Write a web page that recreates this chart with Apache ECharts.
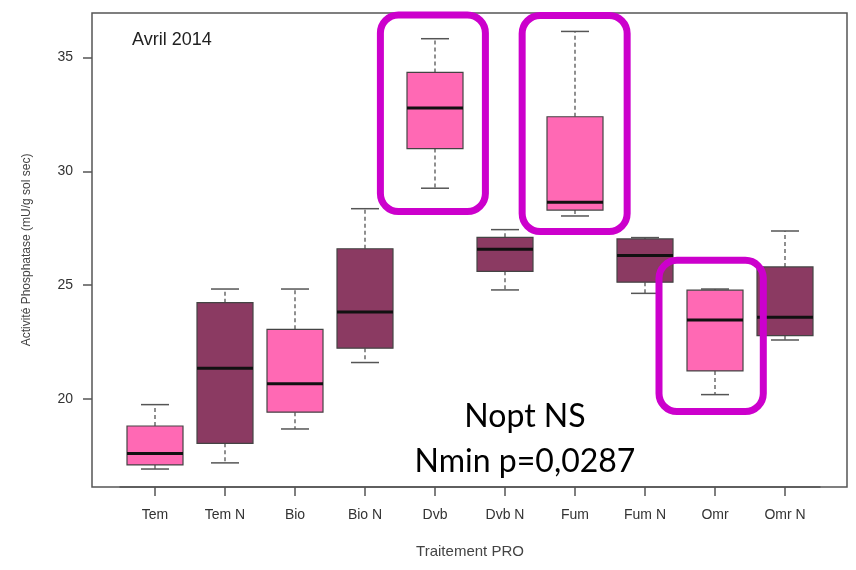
<!DOCTYPE html>
<html><head><meta charset="utf-8">
<script src="https://cdn.jsdelivr.net/npm/echarts@6/dist/echarts.min.js"></script>
<style>html,body{margin:0;padding:0;background:#fff}#c{width:856px;height:570px}</style>
</head><body><div id="c"></div>
<script>
// ---- data ----
const categories = ['Tem','Tem N','Bio','Bio N','Dvb','Dvb N','Fum','Fum N','Omr','Omr N'];
const whiskerLow  = [16.92,17.19,18.68,21.60,29.26,24.79,28.04,24.64,20.19,22.59];
const q1          = [17.10,18.05,19.42,22.23,31.00,25.61,28.30,25.13,21.23,22.78];
const median      = [17.60,21.35,20.67,23.82,32.79,26.58,28.64,26.30,23.47,23.59];
const q3          = [18.81,24.23,23.06,26.60,34.35,27.10,32.40,27.03,24.78,25.80];
const whiskerHigh = [19.75,24.83,24.83,28.36,35.83,27.44,36.15,27.09,24.83,27.38];
const yTicks = [20,25,30,35];
const fills = ['#FF69B4','#8B3A62'];
// highlight frames (category, value range)
const hlCats  = ['Dvb','Fum','Omr'];
const hlLow   = [28.24,27.36,19.45];
const hlHigh  = [36.87,36.85,26.09];
const hlLeft  = [-0.78,-0.755,-0.80];
const hlRight = [0.72,0.745,0.69];
const noteLines = ['Nopt NS','Nmin p=0,0287'];

const chart = echarts.init(document.getElementById('c'), null, {renderer:'canvas'});
const FONT = 'Liberation Sans, Arial, sans-serif';
const seriesData = categories.map((c,i)=>[i, whiskerLow[i], q1[i], median[i], q3[i], whiskerHigh[i]]);

const option = {
  animation:false,
  backgroundColor:'#fff',
  title:{text:'Avril 2014', left:127, top:26, textStyle:{fontFamily:FONT, fontSize:18, fontWeight:'normal', color:'#222'}},
  grid:[
    {left:120, right:36, top:13, bottom:83, show:false},
    {left:92, right:9, top:13, bottom:83, show:true, borderColor:'#555', borderWidth:1.5, backgroundColor:'transparent'}
  ],
  xAxis:[
    {type:'category', gridIndex:0, data:categories, boundaryGap:true,
     axisLine:{show:true, lineStyle:{color:'#555', width:1.5}},
     axisTick:{show:true, alignWithLabel:true, length:9, lineStyle:{color:'#555', width:1.5}},
     axisLabel:{margin:21, fontFamily:FONT, fontSize:14, color:'#333'},
     name:'Traitement PRO', nameLocation:'middle', nameGap:57,
     nameTextStyle:{fontFamily:FONT, fontSize:15, color:'#444'}},
    {type:'value', gridIndex:1, show:false}
  ],
  yAxis:[
    {type:'value', gridIndex:0, min:16.13, max:36.96, offset:28,
     splitLine:{show:false},
     axisLine:{show:false},
     axisTick:{show:true, length:9, customValues:yTicks, lineStyle:{color:'#555', width:1.5}},
     axisLabel:{margin:19, customValues:yTicks, fontFamily:FONT, fontSize:14, color:'#333'},
     name:'Activité Phosphatase (mU/g sol sec)', nameLocation:'middle', nameGap:59, nameRotate:90,
     nameTextStyle:{fontFamily:FONT, fontSize:12, color:'#444'}},
    {type:'value', gridIndex:1, show:false}
  ],
  series:[{
    type:'custom', xAxisIndex:0, yAxisIndex:0,
    data:seriesData,
    encode:{x:0, y:[1,2,3,4,5]},
    renderItem:function(params, api){
      const i = api.value(0);
      const x = api.coord([i, api.value(3)])[0];
      const band = api.size([1,0])[0];
      const hw = band*0.4, cw = band*0.2;
      const yLo = api.coord([i, api.value(1)])[1];
      const yQ1 = api.coord([i, api.value(2)])[1];
      const yMed = api.coord([i, api.value(3)])[1];
      const yQ3 = api.coord([i, api.value(4)])[1];
      const yHi = api.coord([i, api.value(5)])[1];
      const wStyle = {stroke:'#555', lineWidth:1.3, lineDash:[4,3]};
      const cStyle = {stroke:'#555', lineWidth:1.5};
      return {type:'group', children:[
        {type:'line', shape:{x1:x,y1:yQ3,x2:x,y2:yHi}, style:wStyle},
        {type:'line', shape:{x1:x,y1:yQ1,x2:x,y2:yLo}, style:wStyle},
        {type:'line', shape:{x1:x-cw,y1:yHi,x2:x+cw,y2:yHi}, style:cStyle},
        {type:'line', shape:{x1:x-cw,y1:yLo,x2:x+cw,y2:yLo}, style:cStyle},
        {type:'rect', shape:{x:x-hw, y:yQ3, width:2*hw, height:yQ1-yQ3},
         style:{fill:fills[i%2], stroke:'#444', lineWidth:1.2}},
        {type:'line', shape:{x1:x-hw,y1:yMed,x2:x+hw,y2:yMed}, style:{stroke:'#111', lineWidth:3}}
      ]};
    }
  }]
};
chart.setOption(option);

// annotation overlays placed through the axes
const c0 = chart.convertToPixel({xAxisIndex:0}, categories[0]);
const c1 = chart.convertToPixel({xAxisIndex:0}, categories[1]);
const unit = c1 - c0;
const graphics = hlCats.map((c,k)=>{
  const cx = chart.convertToPixel({xAxisIndex:0}, c);
  const yT = chart.convertToPixel({yAxisIndex:0}, hlHigh[k]);
  const yB = chart.convertToPixel({yAxisIndex:0}, hlLow[k]);
  const xL = cx + hlLeft[k]*unit, xR = cx + hlRight[k]*unit;
  return {type:'rect', z:100, shape:{x:xL, y:yT, width:xR-xL, height:yB-yT, r:18},
          style:{fill:'none', stroke:'#CC00CC', lineWidth:7}};
});
graphics.push({type:'text', z:100, style:{text:noteLines[0], x:525, y:417, textAlign:'center', textVerticalAlign:'middle',
  font:'32px Lato, "Open Sans", sans-serif', fill:'#000'}});
graphics.push({type:'text', z:100, style:{text:noteLines[1], x:525, y:462, textAlign:'center', textVerticalAlign:'middle',
  font:'32px Lato, "Open Sans", sans-serif', fill:'#000'}});
chart.setOption({graphic:graphics});
</script>
</body></html>
